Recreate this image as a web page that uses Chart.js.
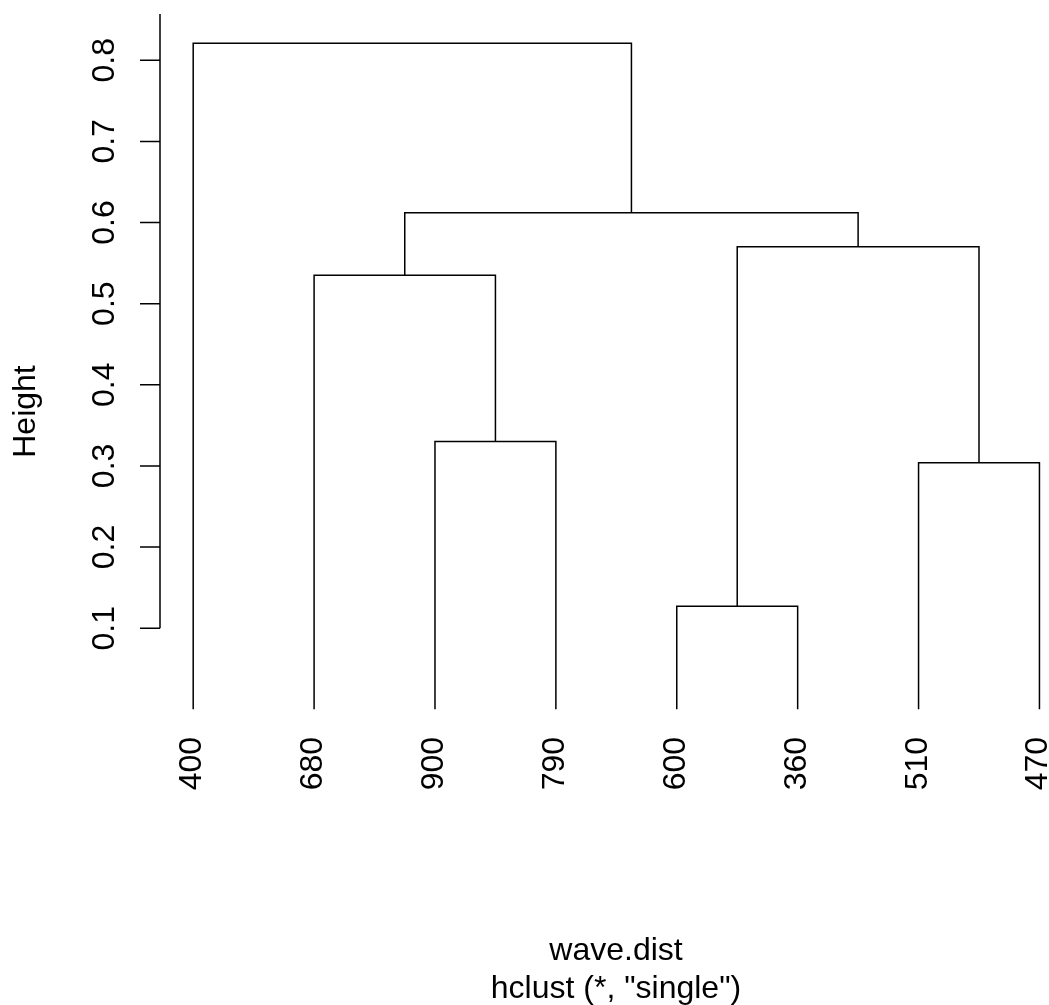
<!DOCTYPE html>
<html>
<head>
<meta charset="utf-8">
<title>hclust dendrogram</title>
<script src="https://cdn.jsdelivr.net/npm/chart.js@4/dist/chart.umd.min.js"></script>
<style>
  html, body { margin: 0; padding: 0; background: #ffffff; }
  canvas { display: block; }
</style>
</head>
<body>
<canvas id="dendro" width="1049" height="1005"></canvas>
<script>
// Leaf labels, in dendrogram order (left to right)
const leafLabels = ['400', '680', '900', '790', '600', '360', '510', '470'];

// Merge table in hclust style: negative = leaf (1-based position), positive = earlier merge step
const mergeLeft   = [-5, -7, -3, -2, 1, 4, -1];
const mergeRight  = [-6, -8, -4,  3, 2, 5,  6];
const mergeHeight = [0.127, 0.304, 0.330, 0.535, 0.570, 0.612, 0.821];

// Height axis ticks
const yTickValues = [0.1, 0.2, 0.3, 0.4, 0.5, 0.6, 0.7, 0.8];

const FONT = '32px "Liberation Sans", Arial, Helvetica, sans-serif';
const LINE_W = 1.5;

// Node x position and height for each merge step
const nodeX = [];
function childPos(ref) {
  if (ref < 0) return { x: -ref, h: 0 };
  return { x: nodeX[ref - 1], h: mergeHeight[ref - 1] };
}
const datasets = [];
for (let i = 0; i < mergeHeight.length; i++) {
  const a = childPos(mergeLeft[i]);
  const b = childPos(mergeRight[i]);
  const h = mergeHeight[i];
  nodeX.push((a.x + b.x) / 2);
  datasets.push({
    data: [
      { x: a.x, y: a.h },
      { x: a.x, y: h },
      { x: b.x, y: h },
      { x: b.x, y: b.h }
    ],
    showLine: true,
    borderColor: '#000000',
    borderWidth: LINE_W,
    pointRadius: 0,
    tension: 0,
    fill: false
  });
}

// Axis, tick labels and titles drawn through the chart's own scales
const annotate = {
  id: 'annotate',
  afterDraw(chart) {
    const { ctx, chartArea, scales } = chart;
    const xs = scales.x, ys = scales.y;
    ctx.save();
    ctx.strokeStyle = '#000000';
    ctx.fillStyle = '#000000';
    ctx.lineWidth = LINE_W;
    ctx.font = FONT;

    // Height axis line and ticks
    const ax = chartArea.left;
    ctx.beginPath();
    ctx.moveTo(ax, ys.getPixelForValue(yTickValues[0]));
    ctx.lineTo(ax, chartArea.top);
    yTickValues.forEach(v => {
      const py = ys.getPixelForValue(v);
      ctx.moveTo(ax - 20, py);
      ctx.lineTo(ax, py);
    });
    ctx.stroke();

    // Height tick labels, rotated
    ctx.textAlign = 'center';
    ctx.textBaseline = 'alphabetic';
    yTickValues.forEach(v => {
      const py = ys.getPixelForValue(v);
      ctx.save();
      ctx.translate(ax - 46.5, py);
      ctx.rotate(-Math.PI / 2);
      ctx.fillText(v.toFixed(1), 0, 0);
      ctx.restore();
    });

    // Leaf labels, rotated, ending just below the leaves
    const labelTop = ys.getPixelForValue(0) + 27.5;
    ctx.textAlign = 'right';
    leafLabels.forEach((lab, i) => {
      const px = xs.getPixelForValue(i + 1);
      ctx.save();
      ctx.translate(px + 8, labelTop);
      ctx.rotate(-Math.PI / 2);
      ctx.fillText(lab, 0, 0);
      ctx.restore();
    });

    // Axis title
    ctx.textAlign = 'center';
    ctx.save();
    ctx.translate(35, 411.5);
    ctx.rotate(-Math.PI / 2);
    ctx.fillText('Height', 0, 0);
    ctx.restore();

    // Bottom titles
    ctx.fillText('wave.dist', 616, 959.5);
    ctx.fillText('hclust (*, "single")', 616, 997.5);
    ctx.restore();
  }
};

new Chart(document.getElementById('dendro'), {
  type: 'scatter',
  data: { datasets },
  options: {
    responsive: false,
    animation: false,
    events: [],
    layout: { padding: { left: 160, right: 0, top: 14, bottom: 265 } },
    plugins: { legend: { display: false }, tooltip: { enabled: false } },
    scales: {
      x: { type: 'linear', min: 0.7254, max: 8.079, display: false },
      y: { type: 'linear', min: -0.0378, max: 0.857, display: false }
    }
  },
  plugins: [annotate]
});
</script>
</body>
</html>
